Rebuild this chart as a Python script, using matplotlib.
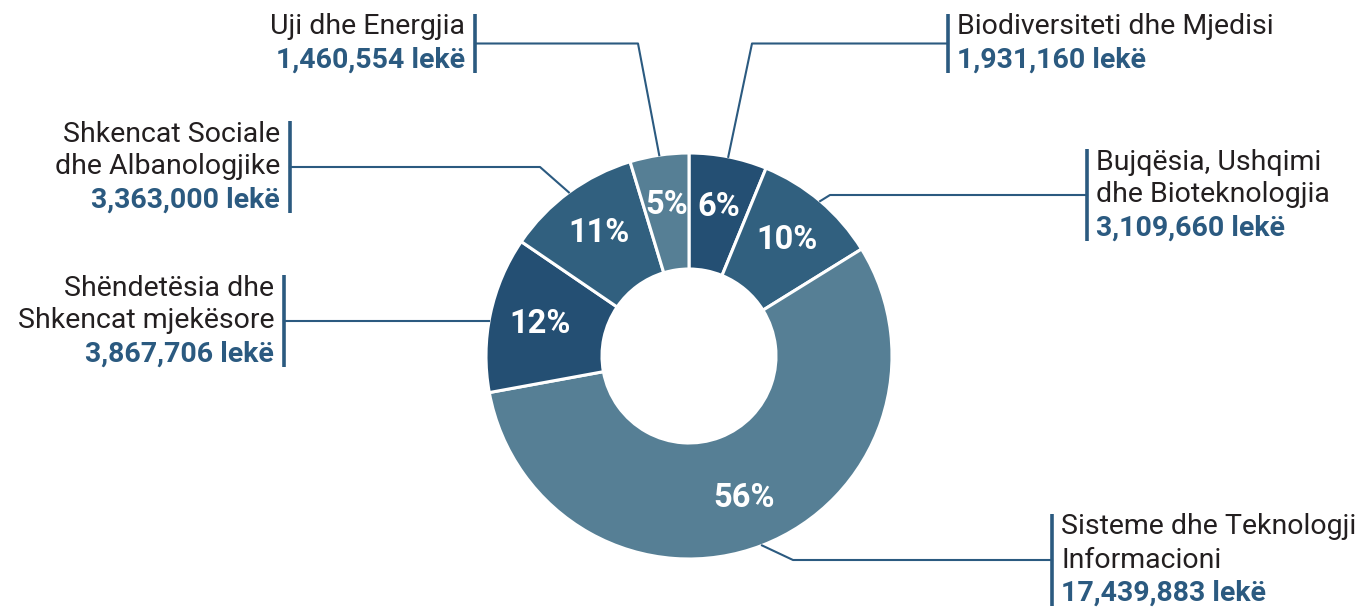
import numpy as np
import matplotlib
matplotlib.use('Agg')
import matplotlib.pyplot as plt

# data
fields = [
    ["Biodiversiteti dhe Mjedisi"],
    ["Bujqësia, Ushqimi", "dhe Bioteknologjia"],
    ["Sisteme dhe Teknologji", "Informacioni"],
    ["Shëndetësia dhe", "Shkencat mjekësore"],
    ["Shkencat Sociale", "dhe Albanologjike"],
    ["Uji dhe Energjia"],
]
amounts = [1931160, 3109660, 17439883, 3867706, 3363000, 1460554]
slice_colors = ["#244f73", "#31607f", "#567f95", "#244f73", "#31607f", "#567f95"]

# label layout (pixels): side, bar x, first line y, elbow x (None = straight to the ring)
label_side = ["right", "right", "right", "left", "left", "left"]
bar_x = [948, 1087, 1052, 284, 290, 475]
first_y = [27, 162, 527, 288, 134, 27]
elbow_x = [752, 830, 793, None, 540, 638]

W, H = 1362, 609
CX, CY, R, R_IN = 689, 356, 203, 87
LINE_STEP = 33
ACCENT = "#2b5a80"
TEXT = "#231f20"

plt.rcParams['font.family'] = ['Roboto', 'DejaVu Sans']

fig = plt.figure(figsize=(W / 100, H / 100), dpi=100)
ax = fig.add_axes([0, 0, 1, 1])

# y axis runs downward, so counterclock in data = clockwise on screen
wedges, _, pcts = ax.pie(amounts, colors=slice_colors, startangle=270, counterclock=True,
                         center=(CX, CY), radius=R, frame=True,
                         autopct='%.0f%%', pctdistance=0.75,
                         wedgeprops=dict(width=R - R_IN, edgecolor='white', linewidth=2.2),
                         textprops=dict(color='white', fontsize=23.5, fontweight='bold'))
for t in pcts:
    t.set_va('center')
    t.set_ha('center')

ax.set_xlim(0, W)
ax.set_ylim(H, 0)
ax.axis('off')

for i, w in enumerate(wedges):
    lines = fields[i] + ["{:,} lekë".format(amounts[i])]
    ys = [first_y[i] + k * LINE_STEP for k in range(len(lines))]
    top, bottom = ys[0] - 13, ys[-1] + 13
    ymid = (top + bottom) / 2
    bx = bar_x[i]
    if elbow_x[i] is None:
        dx = np.sqrt(R ** 2 - (ymid - CY) ** 2)
        ex = CX - dx if label_side[i] == "left" else CX + dx
        px, py = [ex, bx], [ymid, ymid]
    else:
        mid = np.deg2rad((w.theta1 + w.theta2) / 2)
        ex, ey = CX + R * np.cos(mid), CY + R * np.sin(mid)
        px, py = [ex, elbow_x[i], bx], [ey, ymid, ymid]
    ax.plot([bx, bx], [top, bottom], color=ACCENT, lw=2.6, solid_capstyle='butt')
    ax.plot(px, py, color=ACCENT, lw=1.5)
    if label_side[i] == "right":
        tx, ha = bx + 9, 'left'
    else:
        tx, ha = bx - 10, 'right'
    for k, (s, y) in enumerate(zip(lines, ys)):
        last = k == len(lines) - 1
        ax.text(tx, y, s, ha=ha, va='center', fontsize=20.5,
                color=ACCENT if last else TEXT,
                fontweight='bold' if last else 'normal')

fig.savefig('out.png', dpi=100, facecolor='white')
